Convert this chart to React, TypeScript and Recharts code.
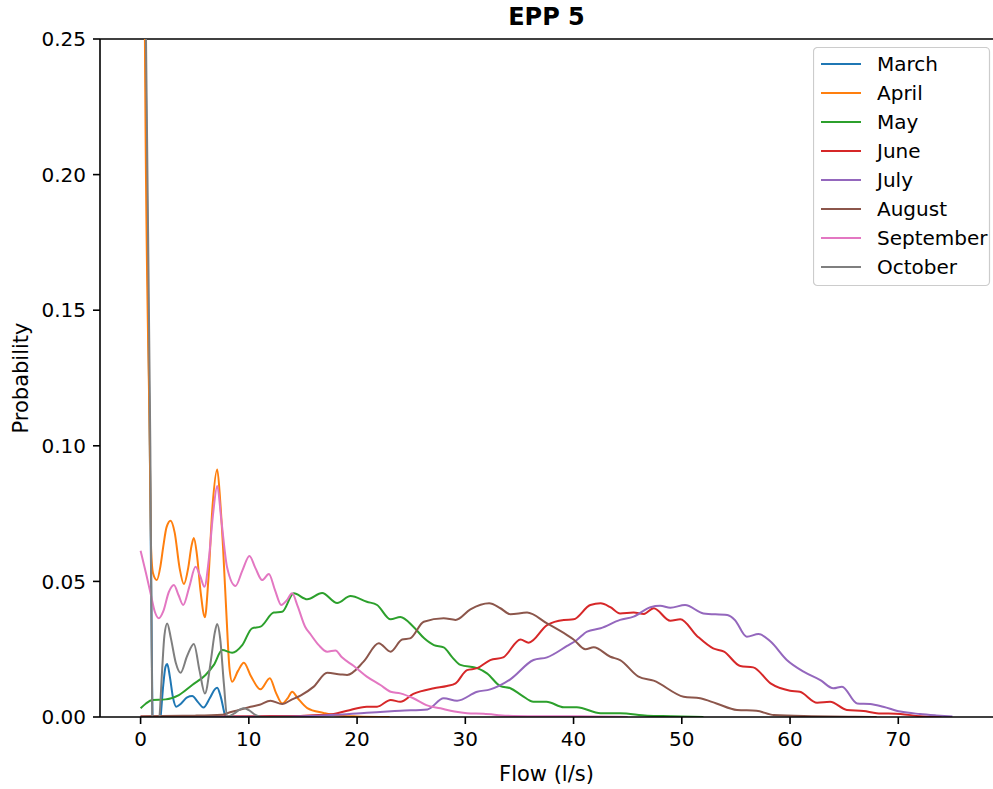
import React from 'react';
import { LineChart, Line, XAxis, YAxis, ReferenceLine, Legend } from 'recharts';

const W = 993;
const H = 789;
const FONT = 'DejaVu Sans';

const months = ['March', 'April', 'May', 'June', 'July', 'August', 'September', 'October'];
const colors = ['#1f77b4', '#ff7f0e', '#2ca02c', '#d62728', '#9467bd', '#8c564b', '#e377c2', '#7f7f7f'];
const xTicks = [0, 10, 20, 30, 40, 50, 60, 70];
const yTicks = [0, 0.05, 0.1, 0.15, 0.2, 0.25];

const march: [number, number][] = [
  [0, 0.6], [0.45, 0.25], [0.85, 0.1], [1.0, 0.04], [1.1, 0], [1.35, -0.012], [1.6, -0.008], [1.85, 0],
  [2.1, 0.012], [2.3, 0.0185], [2.46, 0.0195], [2.7, 0.015], [3.0, 0.007], [3.3, 0.0038], [3.7, 0.0048],
  [4.3, 0.0072], [4.77, 0.0077], [5.3, 0.0055], [5.8, 0.0035], [6.4, 0.007], [6.85, 0.0102], [7.08, 0.0108],
  [7.4, 0.0075], [7.85, 0], [8.3, -0.002], [8.8, 0], [10, 0],
];
const april: [number, number][] = [
  [0, 0.7], [0.4, 0.25], [0.85, 0.1], [0.97, 0.062], [1.15, 0.053], [1.5, 0.0505], [1.85, 0.056],
  [2.1, 0.063], [2.4, 0.07], [2.77, 0.0724], [3.15, 0.068], [3.6, 0.055], [4.0, 0.049], [4.4, 0.055],
  [4.7, 0.063], [4.92, 0.066], [5.2, 0.06], [5.55, 0.046], [5.94, 0.0368], [6.25, 0.05], [6.65, 0.078],
  [7.08, 0.0913], [7.35, 0.08], [7.63, 0.0616], [7.94, 0.037], [8.2, 0.0185], [8.46, 0.013], [9.0, 0.017],
  [9.54, 0.02], [10.2, 0.015], [11.08, 0.0102], [11.94, 0.0143], [12.5, 0.009], [13.08, 0.005],
  [13.6, 0.007], [14.0, 0.0093], [14.5, 0.007], [15.4, 0.0033], [16.9, 0.0015], [18, 0.0006], [20, 0.0002],
  [23, 0],
];
const may: [number, number][] = [
  [0, 0.0032], [0.5, 0.005], [1.08, 0.0063], [2.31, 0.0065], [3.54, 0.0081], [4.77, 0.0118], [6.0, 0.0155],
  [6.77, 0.0192], [7.54, 0.0247], [8.46, 0.0237], [9.39, 0.0265], [10.3, 0.0327], [11.08, 0.0333],
  [12.3, 0.0385], [13.08, 0.0388], [14.15, 0.0456], [15.4, 0.0434], [16.77, 0.0457], [18.16, 0.042],
  [19.39, 0.0446], [20.9, 0.0425], [21.85, 0.0413], [23.1, 0.036], [24.0, 0.0369], [25.2, 0.0333],
  [26.2, 0.029], [27.1, 0.0265], [28.0, 0.0257], [28.8, 0.022], [29.55, 0.0192], [31.1, 0.018],
  [32.0, 0.0161], [33.24, 0.0114], [34.16, 0.0106], [35.2, 0.008], [36.3, 0.0056], [37.5, 0.0056],
  [39.1, 0.0036], [40.3, 0.0036], [42.5, 0.0014], [44.3, 0.0014], [46.8, 0.0005], [49, 0.0003], [52, 0],
];
const june: [number, number][] = [
  [0, 0.0002], [10, 0.0003], [14.77, 0.0004], [16.5, 0.0007], [17.85, 0.0011], [19.08, 0.0023],
  [20.9, 0.0038], [21.85, 0.0038], [23.1, 0.0063], [24.0, 0.0056], [25.2, 0.0085], [27.1, 0.0106],
  [28.3, 0.0114], [29.1, 0.0124], [30.16, 0.0173], [31.1, 0.018], [32.3, 0.021], [33.5, 0.022],
  [35.1, 0.0286], [35.85, 0.0274], [37.55, 0.0339], [39.1, 0.0358], [40.0, 0.036], [41.55, 0.0413],
  [42.5, 0.0419], [43.4, 0.0405], [44.3, 0.0382], [45.55, 0.0385], [46.5, 0.038], [47.4, 0.0401],
  [48.94, 0.0355], [49.86, 0.036], [51.4, 0.0299], [52.9, 0.0253], [53.9, 0.0241], [55.4, 0.0188],
  [56.6, 0.0183], [58.2, 0.0124], [60.0, 0.0097], [60.9, 0.0093], [62.5, 0.0053], [63.7, 0.0056],
  [65.25, 0.0026], [66.8, 0.0022], [68.0, 0.0014], [70.2, 0.0011], [72, 0.0003], [74, 0],
];
const july: [number, number][] = [
  [0, 0], [10, 0.0001], [15, 0.0003], [18, 0.0008], [20.9, 0.0016], [22.8, 0.002], [24.0, 0.0023],
  [26.5, 0.0028], [28.0, 0.0069], [29.24, 0.006], [31.1, 0.0093], [32.3, 0.0102], [34.16, 0.0139],
  [36.3, 0.021], [37.55, 0.022], [39.4, 0.0262], [40.3, 0.0284], [41.25, 0.0315], [42.5, 0.0327],
  [44.3, 0.0358], [45.55, 0.037], [47.1, 0.0405], [48.0, 0.041], [48.94, 0.0403], [50.3, 0.0413],
  [52.0, 0.0382], [54.2, 0.0376], [54.9, 0.0358], [56.0, 0.0296], [57.1, 0.0306], [58.2, 0.0278],
  [59.7, 0.021], [61.25, 0.0167], [62.8, 0.0136], [64.0, 0.0106], [64.8, 0.0112], [66.2, 0.005],
  [67.4, 0.0048], [68.6, 0.0038], [70.2, 0.002], [72.0, 0.0011], [73.5, 0.0006], [75, 0.0002],
];
const august: [number, number][] = [
  [0, 0.0002], [2, 0.0004], [5, 0.0005], [7.5, 0.0008], [8.0, 0.0014], [9.0, 0.0025], [10.16, 0.0038],
  [11.0, 0.0045], [12.0, 0.006], [13.08, 0.0048], [14.0, 0.0065], [14.77, 0.0079], [16.0, 0.0112],
  [17.24, 0.0163], [18.47, 0.0157], [19.08, 0.0155], [20.6, 0.0204], [22.0, 0.0272], [23.1, 0.0241],
  [24.16, 0.0286], [24.9, 0.029], [26.16, 0.0351], [28.0, 0.0364], [29.1, 0.0358], [30.47, 0.0397],
  [32.2, 0.0419], [33.24, 0.0401], [34.16, 0.0379], [35.7, 0.0385], [37.55, 0.0345], [39.4, 0.0302],
  [40.0, 0.0286], [41.1, 0.025], [41.86, 0.0257], [43.4, 0.0222], [44.3, 0.021], [46.0, 0.0149],
  [47.4, 0.0134], [50.17, 0.0075], [51.7, 0.0069], [53.2, 0.005], [55.1, 0.0026], [56.9, 0.0023],
  [58.5, 0.0007], [62, 0.0003], [66, 0.0001], [68, 0],
];
const september: [number, number][] = [
  [0, 0.0613], [0.5, 0.053], [0.92, 0.0456], [1.3, 0.039], [1.69, 0.0364], [2.1, 0.039], [2.6, 0.046],
  [3.08, 0.0487], [3.5, 0.045], [3.94, 0.0413], [4.5, 0.048], [5.08, 0.0554], [5.5, 0.052], [5.9, 0.048],
  [6.3, 0.058], [6.7, 0.075], [7.08, 0.0852], [7.45, 0.073], [8.0, 0.055], [8.77, 0.0483], [9.4, 0.054],
  [10.06, 0.0594], [10.6, 0.055], [11.23, 0.0505], [11.85, 0.0527], [12.4, 0.047], [13.0, 0.0413],
  [13.5, 0.043], [14.0, 0.0456], [14.5, 0.041], [15.2, 0.0333], [15.7, 0.0305], [16.46, 0.0265],
  [17.24, 0.0241], [18.0, 0.0245], [18.6, 0.022], [19.7, 0.0188], [20.9, 0.0149], [22.16, 0.0118],
  [23.1, 0.0093], [24.0, 0.0087], [25.2, 0.0069], [26.4, 0.0044], [27.7, 0.0032], [29.0, 0.002],
  [30.16, 0.0014], [31.7, 0.0012], [33.9, 0.0005], [37, 0.0003], [42, 0.0002], [45, 0],
];
const october: [number, number][] = [
  [0, 0.6], [0.5, 0.25], [0.9, 0.1], [1.0, 0.04], [1.08, 0], [1.3, -0.012], [1.55, -0.008], [1.75, 0],
  [2.0, 0.018], [2.2, 0.03], [2.46, 0.0345], [2.8, 0.029], [3.25, 0.02], [3.69, 0.0163], [4.3, 0.0225],
  [4.92, 0.0269], [5.45, 0.017], [5.94, 0.0087], [6.5, 0.021], [6.85, 0.031], [7.08, 0.0343], [7.35, 0.029],
  [7.7, 0.012], [8.0, 0], [8.6, 0.0012], [9.2, 0.0028], [9.54, 0.0032], [10.0, 0.0025], [10.6, 0.0008],
  [11.2, 0], [14, 0],
];

const seriesPoints = [march, april, may, june, july, august, september, october];
const seriesData = seriesPoints.map((pts) => pts.map(([x, y]) => ({ x, y })));

const renderLegend = () => (
  <svg width={178} height={240} style={{ display: 'block' }}>
    <rect x={0.5} y={0.5} width={176} height={238} rx={4} ry={4} fill="#fff" fillOpacity={0.8} stroke="#cccccc" strokeWidth={1.2} />
    {months.map((m, i) => {
      const cy = 17 + i * 29;
      return (
        <g key={m}>
          <line x1={8} x2={48} y1={cy} y2={cy} stroke={colors[i]} strokeWidth={2} />
          <text x={64} y={cy + 7} fontSize={20} fontFamily={FONT} fill="#000">{m}</text>
        </g>
      );
    })}
  </svg>
);

export default function App() {
  return (
    <div style={{ position: 'absolute', left: 0, top: 0, width: W, height: H, background: '#fff' }}>
      <LineChart width={W} height={H} margin={{ top: 39, right: 0, bottom: 0, left: 0 }}>
        <XAxis
          type="number"
          dataKey="x"
          domain={[-3.75, 78.75]}
          ticks={xTicks}
          allowDataOverflow
          height={72}
          tickSize={7}
          tickMargin={8}
          axisLine={{ stroke: '#000', strokeWidth: 1.6 }}
          tickLine={{ stroke: '#000', strokeWidth: 1.6 }}
          tick={{ fill: '#000', fontSize: 20, fontFamily: FONT }}
        />
        <YAxis
          type="number"
          domain={[0, 0.25]}
          ticks={yTicks}
          allowDataOverflow
          width={100}
          tickSize={7}
          tickMargin={7}
          tickFormatter={(v: number) => v.toFixed(2)}
          axisLine={{ stroke: '#000', strokeWidth: 1.6 }}
          tickLine={{ stroke: '#000', strokeWidth: 1.6 }}
          tick={{ fill: '#000', fontSize: 20, fontFamily: FONT }}
        />
        <ReferenceLine y={0.25} stroke="#000" strokeWidth={1.6} />
        {seriesData.map((d, i) => (
          <Line
            key={months[i]}
            data={d}
            dataKey="y"
            name={months[i]}
            type="monotone"
            stroke={colors[i]}
            strokeWidth={2}
            dot={false}
            activeDot={false}
            isAnimationActive={false}
          />
        ))}
        <Legend
          layout="horizontal"
          align="center"
          verticalAlign="middle"
          content={renderLegend}
          wrapperStyle={{ position: 'absolute', left: 813, top: 47, width: 178, height: 240 }}
        />
      </LineChart>
      <svg width={W} height={H} style={{ position: 'absolute', left: 0, top: 0, pointerEvents: 'none' }}>
        <text x={546.5} y={25} textAnchor="middle" fontSize={24} fontWeight="bold" fontFamily={FONT} fill="#000">EPP 5</text>
        <text x={546.5} y={781} textAnchor="middle" fontSize={21} fontFamily={FONT} fill="#000">Flow (l/s)</text>
        <text x={28} y={378} textAnchor="middle" fontSize={21} fontFamily={FONT} fill="#000" transform="rotate(-90 28 378)">Probability</text>
      </svg>
    </div>
  );
}
